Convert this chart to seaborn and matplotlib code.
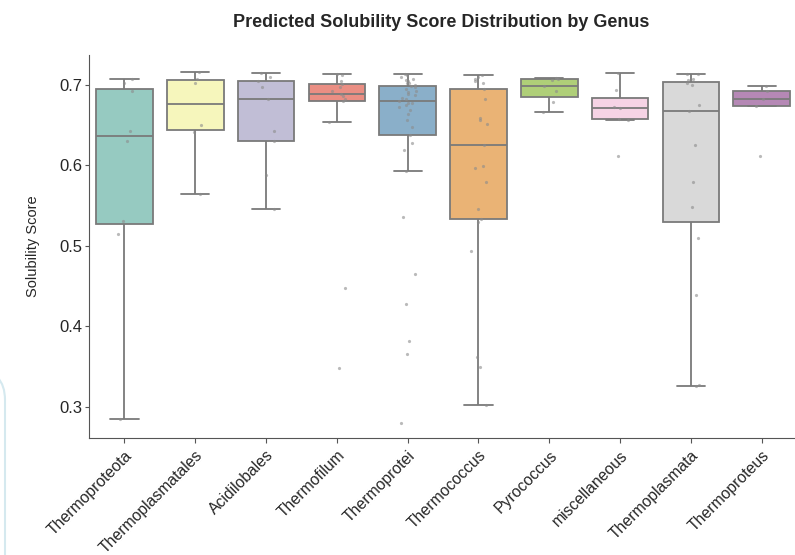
import numpy as np
import pandas as pd
import matplotlib
matplotlib.use("Agg")
import matplotlib.pyplot as plt
from matplotlib.patches import FancyBboxPatch
import seaborn as sns

# genus order as on the x axis
genera = [
    "Thermoproteota", "Thermoplasmatales", "Acidilobales", "Thermofilum",
    "Thermoprotei", "Thermococcus", "Pyrococcus", "miscellaneous",
    "Thermoplasmata", "Thermoproteus",
]

# predicted solubility scores per genus
thermoproteota = [0.284, 0.515, 0.531, 0.630, 0.643, 0.692, 0.702, 0.708]
thermoplasmatales = [0.564, 0.6417, 0.650, 0.703, 0.707, 0.716]
acidilobales = [0.5458, 0.5875, 0.630, 0.643, 0.683, 0.698, 0.705, 0.7104, 0.7146]
thermofilum = [0.348, 0.448, 0.654, 0.680, 0.682, 0.686, 0.689, 0.692,
               0.698, 0.701, 0.705, 0.712, 0.713]
thermoprotei = [0.280, 0.365, 0.381, 0.427, 0.465, 0.536, 0.593, 0.619, 0.628,
                0.638, 0.648, 0.657, 0.664, 0.669, 0.672, 0.675, 0.677, 0.678,
                0.680, 0.682, 0.684, 0.687, 0.689, 0.691, 0.693, 0.695, 0.697,
                0.699, 0.700, 0.702, 0.703, 0.705, 0.706, 0.708, 0.710, 0.712,
                0.714]
thermococcus = [0.302, 0.349, 0.361, 0.494, 0.529, 0.533, 0.546, 0.579, 0.597,
                0.599, 0.625, 0.652, 0.656, 0.659, 0.682, 0.695, 0.702, 0.705,
                0.708, 0.710, 0.712]
pyrococcus = [0.666, 0.679, 0.692, 0.699, 0.7065, 0.7077, 0.7083]
miscellaneous = [0.6117, 0.657, 0.6572, 0.6717, 0.673, 0.6936, 0.7154]
thermoplasmata = [0.326, 0.327, 0.439, 0.510, 0.548, 0.579, 0.625, 0.668,
                  0.675, 0.700, 0.702, 0.706, 0.708, 0.713, 0.714]
thermoproteus = [0.6117, 0.6742, 0.6829, 0.6925, 0.6983]

scores = [thermoproteota, thermoplasmatales, acidilobales, thermofilum,
          thermoprotei, thermococcus, pyrococcus, miscellaneous,
          thermoplasmata, thermoproteus]

df = pd.DataFrame({
    "Genus": np.repeat(genera, [len(s) for s in scores]),
    "Solubility Score": np.concatenate(scores),
})

sns.set_style("ticks")
plt.rcParams["font.family"] = ["Liberation Sans", "DejaVu Sans"]

fig = plt.figure(figsize=(7.95, 5.55), dpi=100)
ax = fig.add_axes([0.112, 0.211, 0.888, 0.690])

sns.boxplot(data=df, x="Genus", y="Solubility Score", hue="Genus",
            order=genera, palette="Set3", legend=False, showfliers=False,
            linewidth=1.3, linecolor="#7a7a7a", ax=ax)
sns.stripplot(data=df, x="Genus", y="Solubility Score", order=genera,
              color="#8c8c8c", alpha=0.6, size=2.3, jitter=0.12, ax=ax)

ax.set_xlim(-0.5, 9.47)
ax.set_ylim(0.261, 0.7373)
ax.set_yticks([0.3, 0.4, 0.5, 0.6, 0.7])
ax.set_xlabel("")
ax.set_ylabel("Solubility Score", fontsize=10.5, labelpad=14)
ax.tick_params(axis="y", labelsize=12, length=3, pad=1.5, color="#555555")
ax.tick_params(axis="x", labelsize=11.3, length=3.5, color="#555555")
plt.setp(ax.get_xticklabels(), rotation=45, ha="right",
         rotation_mode="anchor")
for sp in ax.spines.values():
    sp.set_color("#555555")
sns.despine(ax=ax)

fig.suptitle("Predicted Solubility Score Distribution by Genus",
             fontsize=13, fontweight="bold", x=0.555, y=0.975)

# faint rounded frame edge at the left of the screenshot
frame = FancyBboxPatch((-60, -30), 65, 215, boxstyle="round,pad=0,rounding_size=30",
                       transform=None, fill=False, edgecolor="#d5e9ef", lw=1.5)
fig.patches.append(frame)

fig.savefig("out.png", dpi=100)
